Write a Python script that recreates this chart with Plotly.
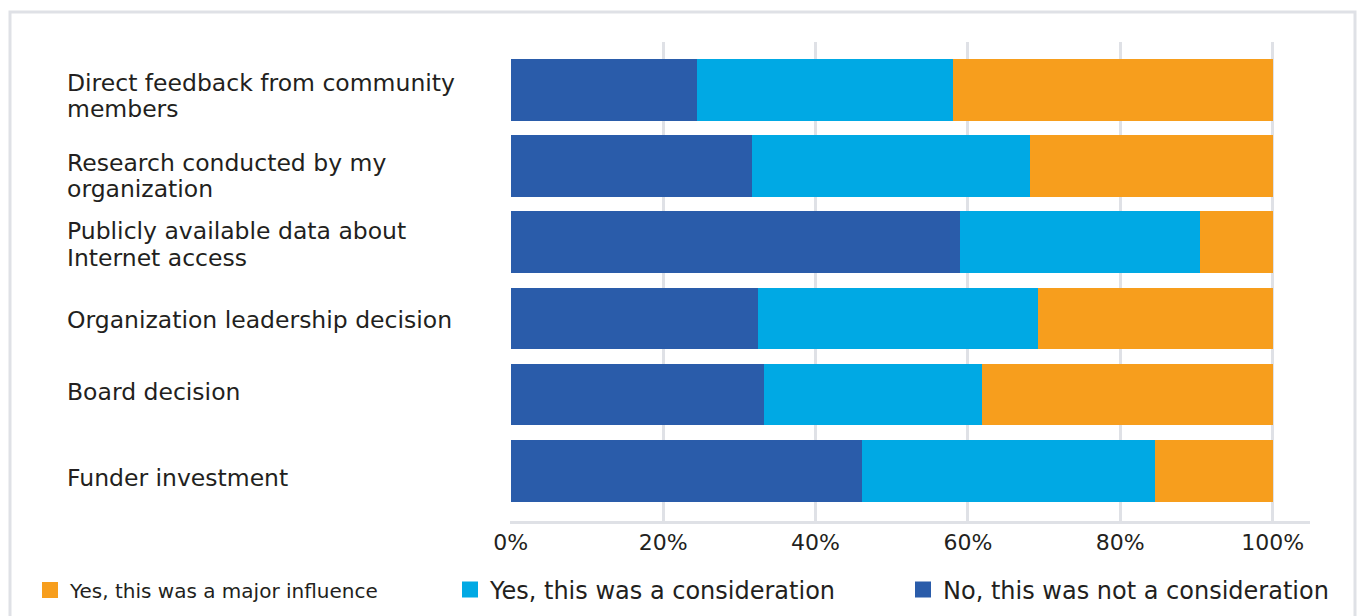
import plotly.graph_objects as go

categories = [
    "Direct feedback from community<br>members",
    "Research conducted by my<br>organization",
    "Publicly available data about<br>Internet access",
    "Organization leadership decision",
    "Board decision",
    "Funder investment",
]
not_consideration = [24.5, 31.7, 59.0, 32.5, 33.3, 46.1]
consideration = [33.6, 36.5, 31.5, 36.7, 28.6, 38.5]
major_influence = [41.9, 31.8, 9.5, 30.8, 38.1, 15.4]

series_names = ["No, this was not a consideration", "Yes, this was a consideration",
                "Yes, this was a major influence"]
colors = ["#2a5caa", "#00a9e4", "#f79e1d"]
tick_vals = [0, 20, 40, 60, 80, 100]
tick_text = ["0%", "20%", "40%", "60%", "80%", "100%"]

# style: vertical nudge (px, downward) of each category label, line spacing
label_offsets_px = [6, 10, 2, 2, -3, 7]
LINE_GAP = 26.5

FONT = "DejaVu Sans"
TXT = "#231f20"
GRID = "#dfe1e6"

fig = go.Figure()
idx = list(range(len(categories)))
legends = ["legend3", "legend2", "legend"]
for name, vals, col in zip(series_names, [not_consideration, consideration, major_influence], colors):
    fig.add_trace(go.Bar(
        y=idx, x=vals, name=name, orientation="h", marker=dict(color=col, line=dict(width=0)),
        width=0.81, showlegend=False,
    ))
# legend entries (square swatches)
for name, col, leg in zip(series_names, colors, legends):
    fig.add_trace(go.Scatter(
        x=[None], y=[None], mode="markers", name=name, legend=leg, showlegend=True,
        marker=dict(symbol="square", size=17, color=col, line=dict(width=0)),
    ))

for i, c in enumerate(categories):
    lines = c.split("<br>")
    n = len(lines)
    for k, line in enumerate(lines):
        fig.add_annotation(x=-0.5565, xref="paper", y=i, yref="y", text=line, showarrow=False,
                           xanchor="left", yanchor="middle", align="left",
                           yshift=-(k - (n - 1) / 2) * LINE_GAP - label_offsets_px[i],
                           font=dict(family=FONT, size=23.5, color=TXT))

W, H = 1361, 616
L, R, T, B = 510, 51, 42, 95
pw, ph = W - L - R, H - T - B

def px(xp):
    return (xp - L) / pw

def py(yp):
    return (H - B - yp) / ph

fig.add_shape(type="rect", xref="paper", yref="paper", x0=px(10), x1=px(1355), y0=py(640), y1=py(12),
              line=dict(color=GRID, width=3), fillcolor="rgba(0,0,0,0)", layer="below")

leg_common = dict(orientation="h", yanchor="middle", xanchor="left", bgcolor="rgba(0,0,0,0)",
                  itemsizing="trace", visible=True, xref="container", yref="container",
                  y=1 - 590 / H)
fig.update_layout(
    width=W, height=H,
    margin=dict(l=L, r=R, t=T, b=B),
    barmode="stack",
    showlegend=True,
    plot_bgcolor="white", paper_bgcolor="white",
    font=dict(family=FONT, color=TXT, size=22),
    xaxis=dict(range=[-0.1, 104.9], tickvals=tick_vals, ticktext=tick_text, showgrid=True,
               gridcolor=GRID, gridwidth=3, showline=True, linecolor=GRID, linewidth=3,
               zeroline=False, ticks="", tickfont=dict(size=22, family=FONT, color=TXT)),
    yaxis=dict(range=[5.66, -0.63], showticklabels=False, showgrid=False, zeroline=False,
               tickvals=idx),
    legend=dict(x=30 / W, font=dict(size=20, family=FONT, color=TXT), **leg_common),
    legend2=dict(x=450 / W, font=dict(size=24, family=FONT, color=TXT), **leg_common),
    legend3=dict(x=903 / W, font=dict(size=24, family=FONT, color=TXT), **leg_common),
)

fig.write_html("out.html", config={"displayModeBar": False},
               post_script="document.body.style.margin='0';")
